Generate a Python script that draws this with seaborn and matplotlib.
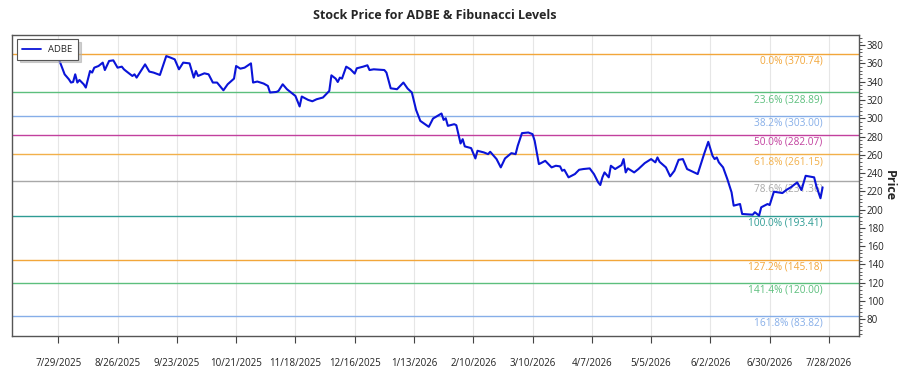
import seaborn as sns
import matplotlib.pyplot as plt
from matplotlib.ticker import MultipleLocator
import pandas as pd

ticker = "ADBE"

dates = [
    "2025-07-25", "2025-07-28", "2025-07-29", "2025-08-01", "2025-08-03", "2025-08-04", "2025-08-05",
    "2025-08-06", "2025-08-07", "2025-08-08", "2025-08-10", "2025-08-11", "2025-08-12", "2025-08-13",
    "2025-08-14", "2025-08-15", "2025-08-17", "2025-08-19", "2025-08-20", "2025-08-22", "2025-08-24",
    "2025-08-26", "2025-08-28", "2025-08-29", "2025-08-30", "2025-09-02", "2025-09-03", "2025-09-04",
    "2025-09-06", "2025-09-08", "2025-09-10", "2025-09-12", "2025-09-15", "2025-09-18", "2025-09-20",
    "2025-09-22", "2025-09-24", "2025-09-26", "2025-09-29", "2025-10-01", "2025-10-02", "2025-10-03",
    "2025-10-06", "2025-10-08", "2025-10-10", "2025-10-12", "2025-10-15", "2025-10-17", "2025-10-20",
    "2025-10-21", "2025-10-23", "2025-10-25", "2025-10-28", "2025-10-29", "2025-10-31", "2025-11-03",
    "2025-11-05", "2025-11-06", "2025-11-09", "2025-11-10", "2025-11-12", "2025-11-14", "2025-11-17",
    "2025-11-18", "2025-11-20", "2025-11-21", "2025-11-24", "2025-11-26", "2025-11-28", "2025-12-01",
    "2025-12-04", "2025-12-05", "2025-12-07", "2025-12-08", "2025-12-09", "2025-12-10", "2025-12-12",
    "2025-12-14", "2025-12-16", "2025-12-17", "2025-12-20", "2025-12-22", "2025-12-23", "2025-12-25",
    "2025-12-30", "2025-12-31", "2026-01-02", "2026-01-05", "2026-01-08", "2026-01-10", "2026-01-12",
    "2026-01-14", "2026-01-16", "2026-01-20", "2026-01-22", "2026-01-26", "2026-01-27", "2026-01-28",
    "2026-01-29", "2026-02-01", "2026-02-02", "2026-02-03", "2026-02-04", "2026-02-05", "2026-02-06",
    "2026-02-09", "2026-02-11", "2026-02-12", "2026-02-15", "2026-02-17", "2026-02-18", "2026-02-21",
    "2026-02-23", "2026-02-25", "2026-02-28", "2026-03-02", "2026-03-03", "2026-03-05", "2026-03-08",
    "2026-03-10", "2026-03-11", "2026-03-13", "2026-03-14", "2026-03-16", "2026-03-19", "2026-03-21",
    "2026-03-23", "2026-03-24", "2026-03-25", "2026-03-27", "2026-03-30", "2026-04-01", "2026-04-03",
    "2026-04-06", "2026-04-08", "2026-04-10", "2026-04-11", "2026-04-12", "2026-04-13", "2026-04-15",
    "2026-04-16", "2026-04-18", "2026-04-21", "2026-04-22", "2026-04-23", "2026-04-24", "2026-04-27",
    "2026-04-29", "2026-05-02", "2026-05-05", "2026-05-07", "2026-05-08", "2026-05-09", "2026-05-12",
    "2026-05-14", "2026-05-16", "2026-05-18", "2026-05-20", "2026-05-22", "2026-05-27", "2026-05-30",
    "2026-06-01", "2026-06-03", "2026-06-04", "2026-06-05", "2026-06-06", "2026-06-08", "2026-06-10",
    "2026-06-12", "2026-06-13", "2026-06-16", "2026-06-17", "2026-06-22", "2026-06-23", "2026-06-25",
    "2026-06-26", "2026-06-29", "2026-06-30", "2026-07-02", "2026-07-06", "2026-07-08", "2026-07-10",
    "2026-07-13", "2026-07-15", "2026-07-17", "2026-07-21", "2026-07-22", "2026-07-24", "2026-07-25",
]

prices = [
    368.0, 370.7, 366.4, 348.1, 342.7, 339.1, 339.7,
    348.1, 339.1, 341.9, 337.2, 333.6, 342.7, 351.7,
    350.0, 355.4, 357.2, 360.9, 352.8, 362.7, 363.4,
    355.4, 356.5, 353.6, 351.7, 346.3, 348.1, 344.5,
    351.7, 359.0, 351.1, 350.0, 347.4, 368.1, 366.4,
    364.5, 353.6, 360.9, 360.1, 344.5, 351.7, 346.3,
    349.2, 348.1, 339.1, 339.1, 330.6, 337.2, 343.4,
    357.2, 354.3, 355.4, 360.1, 339.1, 340.2, 338.0,
    335.4, 328.2, 328.8, 329.9, 337.2, 331.8, 326.3,
    324.4, 312.9, 323.8, 320.1, 318.6, 320.8, 322.7,
    329.9, 347.0, 343.4, 339.7, 344.5, 343.4, 356.5,
    353.6, 348.9, 354.7, 356.5, 358.0, 352.8, 353.6,
    352.8, 350.0, 332.8, 331.8, 339.1, 332.5, 328.2,
    309.1, 297.1, 290.6, 299.7, 305.2, 298.2, 300.0,
    291.7, 293.5, 292.4, 282.6, 272.4, 277.1, 269.2,
    267.3, 256.0, 264.4, 262.6, 260.7, 263.3, 255.3,
    246.2, 256.0, 261.8, 260.7, 269.8, 283.7, 284.4,
    282.6, 275.3, 249.8, 250.9, 253.4, 246.2, 248.0,
    247.3, 242.5, 243.6, 235.3, 238.9, 243.6, 244.4,
    245.1, 238.9, 229.8, 226.9, 235.3, 240.7, 235.3,
    248.0, 244.4, 248.7, 255.3, 240.7, 245.1, 240.7,
    244.4, 250.9, 255.3, 251.7, 257.1, 252.3, 246.2,
    236.4, 242.5, 254.5, 255.3, 244.4, 238.9, 260.7,
    274.2, 258.9, 255.3, 257.1, 251.7, 246.2, 233.4,
    218.9, 204.3, 206.1, 195.2, 194.4, 197.1, 193.4,
    202.5, 206.1, 205.0, 219.6, 218.1, 221.7, 224.4,
    229.8, 221.4, 237.0, 235.3, 226.1, 212.4, 224.4,
]

fib_ratios = ["0.0%", "23.6%", "38.2%", "50.0%", "61.8%", "78.6%", "100.0%", "127.2%", "141.4%", "161.8%"]
fib_levels = [370.74, 328.89, 303.00, 282.07, 261.15, 231.36, 193.41, 145.18, 120.00, 83.82]
fib_colors = ["#f2a63a", "#5cbf7d", "#86aee8", "#c2409e", "#f2b04a", "#a8a8a8",
              "#2f9c94", "#f2a63a", "#5cbf7d", "#86aee8"]

tick_dates = ["2025-07-29", "2025-08-26", "2025-09-23", "2025-10-21", "2025-11-18", "2025-12-16",
              "2026-01-13", "2026-02-10", "2026-03-10", "2026-04-07", "2026-05-05", "2026-06-02",
              "2026-06-30", "2026-07-28"]

df = pd.DataFrame({"Date": pd.to_datetime(dates), "Price": prices})

sns.set_style("white")
plt.rcParams['font.family'] = ['Open Sans', 'DejaVu Sans']

fig = plt.figure(figsize=(9, 3.75), dpi=100)
ax = fig.add_axes([0.013, 0.105, 0.941, 0.8025])

# vertical grid only, at the date ticks
for t in pd.to_datetime(tick_dates):
    ax.axvline(t, color="#e6e6e6", lw=0.8, zorder=0)

last_date = df["Date"].iloc[-1]
for ratio, level, color in zip(fib_ratios, fib_levels, fib_colors):
    ax.axhline(level, color=color, lw=1.0, zorder=1)
    ax.text(last_date, level - 2.5, f"{ratio} ({level:.2f})", color=color,
            fontsize=7.3, ha="right", va="top", zorder=2)

sns.lineplot(data=df, x="Date", y="Price", ax=ax, color="#0a14d8", lw=1.5,
             label=ticker, zorder=3)

ax.set_xlim(pd.Timestamp("2025-07-07"), pd.Timestamp("2026-08-11"))
ax.set_ylim(62, 391.5)

ax.set_xticks(pd.to_datetime(tick_dates))
ax.set_xticklabels([f"{d.month}/{d.day}/{d.year}" for d in pd.to_datetime(tick_dates)])
ax.tick_params(axis="x", labelsize=7, pad=11, length=5, color="#444444", direction="out",
               bottom=True, labelcolor="#222222")

ax.yaxis.tick_right()
ax.yaxis.set_label_position("right")
ax.yaxis.set_major_locator(MultipleLocator(20))
ax.yaxis.set_minor_locator(MultipleLocator(4))
ax.tick_params(axis="y", which="major", labelsize=7, length=4, color="#444444",
               direction="out", right=True, labelcolor="#222222", pad=2)
ax.tick_params(axis="y", which="minor", length=2, color="#444444", direction="out", right=True)
ax.set_ylabel("Price", fontsize=9, fontweight="bold", rotation=270, labelpad=9)
ax.set_xlabel("")

for side in ["left", "bottom", "right", "top"]:
    ax.spines[side].set_visible(True)
    ax.spines[side].set_color("#555555")
    ax.spines[side].set_linewidth(1.0)

ax.set_title(f"Stock Price for {ticker} & Fibunacci Levels", fontsize=9, fontweight="bold", pad=11)

leg = ax.legend(loc="upper left", fontsize=6.8, frameon=True, fancybox=False,
                shadow={"color": "#b0b0b0", "alpha": 0.6},
                borderpad=0.6, handlelength=2.0, handletextpad=0.7, borderaxespad=0,
                bbox_to_anchor=(0.006, 0.985))
leg.get_frame().set_edgecolor("#555555")
leg.get_frame().set_linewidth(0.8)
for line in leg.get_lines():
    line.set_linewidth(1.3)

plt.savefig("out.png", dpi=100)
